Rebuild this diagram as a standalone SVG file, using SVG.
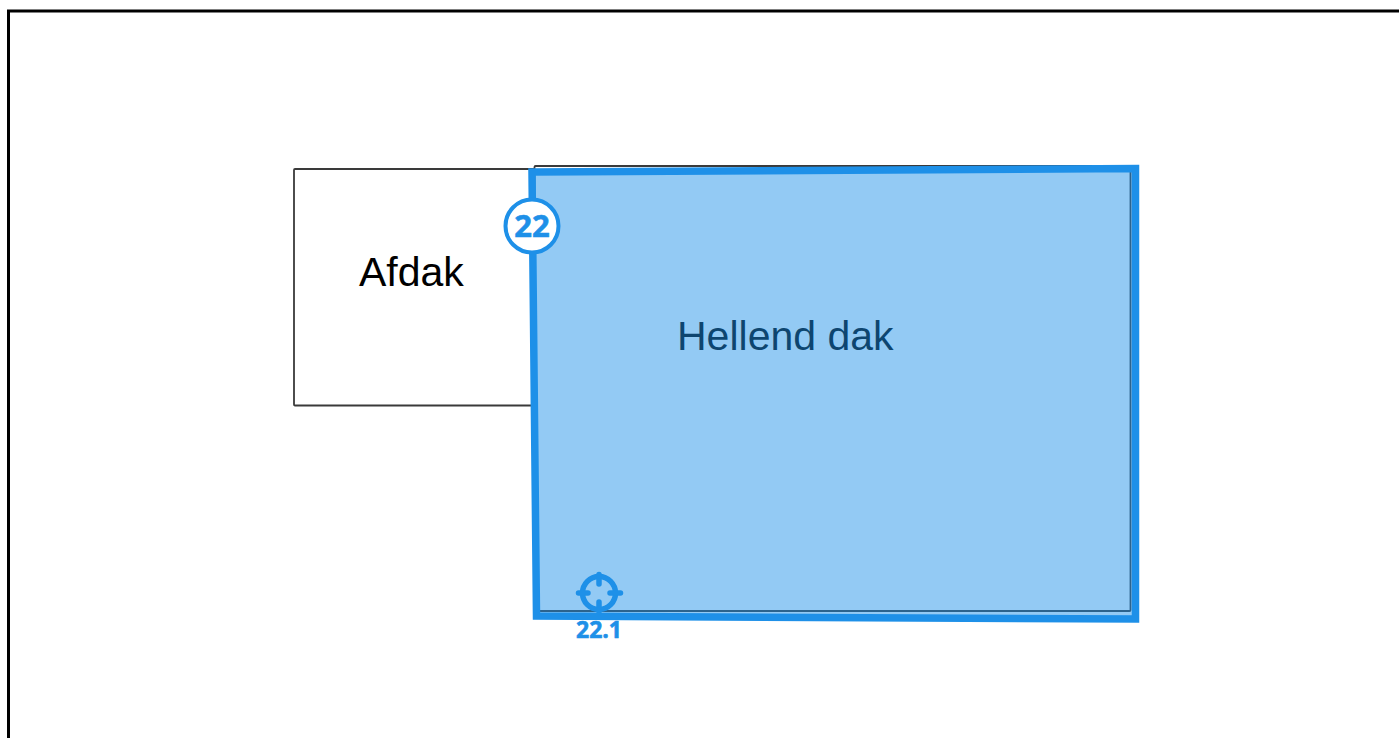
<svg xmlns="http://www.w3.org/2000/svg" width="1399" height="738" viewBox="0 0 1399 738">
<style>
.base{fill:#fff;stroke:#3a3a3a;stroke-width:1.800}
.lbl{font-family:"Liberation Sans",Arial,sans-serif;font-size:41px}
.num{font-family:"Open Sans","Noto Sans",sans-serif;font-weight:700;fill:#1e90e8;stroke:#1e90e8;stroke-width:.6}
.blue{stroke:#1e90e8}
</style>
<rect width="1399" height="738" fill="#fff"/>
<path d="M8.500 738V11H1399" fill="none" stroke="#000" stroke-width="3"/>
<g id="afdak">
<rect class="base" x="294" y="169" width="245" height="236.500" rx="1"/>
<text class="lbl" x="359" y="286" fill="#000">Afdak</text>
</g>
<g id="hellend-dak">
<rect class="base" x="534.500" y="166" width="596" height="445" rx="1"/>
<text class="lbl" x="677" y="350" fill="#000">Hellend dak</text>
<polygon points="532,172 1135.500,168.500 1135.500,619 536.500,616" fill="#1e90e8" fill-opacity=".48" stroke="none"/>
<polygon points="532,172 1135.500,168.500 1135.500,619 536.500,616" fill="none" stroke="#1e90e8" stroke-width="7.500"/>
</g>
<g id="badge-22">
<circle cx="532" cy="226" r="26.500" fill="#fff" class="blue" stroke-width="4"/>
<text class="num" x="532" y="237" font-size="31" text-anchor="middle">22</text>
</g>
<g id="point-22-1">
<circle cx="599" cy="593" r="16.500" fill="none" class="blue" stroke-width="5.500"/>
<path d="M599 574.500V584M599 602V611.500M578.500 593H588M610 593H620.500" fill="none" class="blue" stroke-width="5.500" stroke-linecap="round"/>
<text class="num" x="599" y="638" font-size="23" text-anchor="middle">22.1</text>
</g>
</svg>
